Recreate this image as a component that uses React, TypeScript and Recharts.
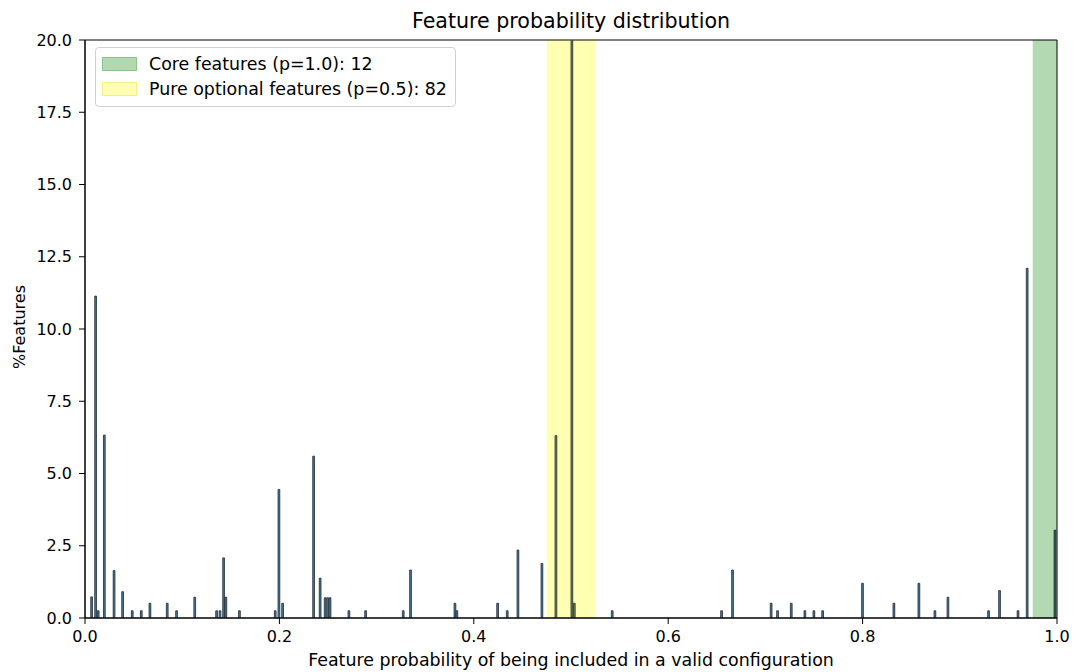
import React from 'react';
import { ComposedChart, Bar, Cell, XAxis, YAxis, ReferenceArea, Label } from 'recharts';

// feature probability (bin position) and share of features in %
const probs = [
  0.0069, 0.011, 0.0137, 0.020, 0.030, 0.0388, 0.0487, 0.058, 0.0669, 0.0847,
  0.0943, 0.113, 0.1355, 0.139, 0.1427, 0.145, 0.159, 0.1958, 0.1996, 0.2034,
  0.2353, 0.242, 0.2472, 0.2497, 0.2522, 0.2716, 0.2888, 0.3275, 0.335, 0.3807,
  0.3827, 0.4246, 0.4345, 0.4455, 0.4702, 0.4846, 0.501, 0.5035, 0.5425, 0.655,
  0.6663, 0.706, 0.7126, 0.7267, 0.7407, 0.75, 0.759, 0.800, 0.8323, 0.858,
  0.8745, 0.8879, 0.9297, 0.941, 0.960, 0.9694, 0.998,
];
const pcts = [
  0.73, 11.14, 0.25, 6.33, 1.64, 0.91, 0.25, 0.25, 0.51, 0.51,
  0.25, 0.72, 0.25, 0.25, 2.08, 0.72, 0.25, 0.25, 4.45, 0.51,
  5.6, 1.38, 0.7, 0.7, 0.7, 0.25, 0.25, 0.25, 1.66, 0.51,
  0.25, 0.51, 0.25, 2.35, 1.89, 6.31, 20.76, 0.51, 0.25, 0.25,
  1.66, 0.51, 0.25, 0.51, 0.25, 0.25, 0.25, 1.2, 0.51, 1.2,
  0.25, 0.72, 0.25, 0.95, 0.25, 12.1, 3.04,
];
const xTicks = [0, 0.2, 0.4, 0.6, 0.8, 1.0];
const yTicks = [0, 2.5, 5, 7.5, 10, 12.5, 15, 17.5, 20];
const legendItems = [
  { label: 'Core features (p=1.0): 12', color: '#b2d8b2', edge: '#8cc48c' },
  { label: 'Pure optional features (p=0.5): 82', color: '#ffffb2', edge: '#f0f08c' },
];

const data = probs.map((p, i) => ({ p, pct: pcts[i] }));

const font = '"DejaVu Sans", sans-serif';
const tickStyle = { fontSize: 16, fill: '#000', fontFamily: font };

// bars sitting under the translucent bands get tinted like in the original
const barColor = (p: number) => {
  if (p >= 0.975) return '#2f6640';
  if (p >= 0.475 && p <= 0.525) return '#7d8a4a';
  return '#4a7aa0';
};

const LegendBox = () => (
  <div
    style={{
      position: 'absolute',
      top: 47,
      left: 95,
      width: 361,
      height: 60,
      border: '1px solid #d0d0d0',
      borderRadius: 4,
      background: 'rgba(255,255,255,0.8)',
      fontFamily: font,
      fontSize: 17.4,
      color: '#000',
      boxSizing: 'border-box',
      paddingTop: 3,
    }}
  >
    {legendItems.map((it) => (
      <div key={it.label} style={{ display: 'flex', alignItems: 'center', height: 25 }}>
        <span
          style={{
            display: 'inline-block',
            width: 35,
            height: 14,
            marginLeft: 6,
            marginRight: 12,
            background: it.color,
            border: `1px solid ${it.edge}`,
            boxSizing: 'border-box',
          }}
        />
        <span style={{ whiteSpace: 'nowrap' }}>{it.label}</span>
      </div>
    ))}
  </div>
);

export default function App() {
  return (
    <div style={{ position: 'absolute', left: 0, top: 0, width: 1078, height: 672, background: '#fff' }}>
      <svg width={1078} height={40} style={{ position: 'absolute', left: 0, top: 0 }}>
        <text x={571} y={28} textAnchor="middle" style={{ fontSize: 20.6, fontFamily: font, fill: '#000' }}>
          Feature probability distribution
        </text>
      </svg>
      <ComposedChart
        width={1078}
        height={672}
        data={data}
        margin={{ top: 40, right: 21, bottom: 0, left: 0 }}
      >
        <XAxis
          dataKey="p"
          type="number"
          domain={[0, 1]}
          ticks={xTicks}
          tickFormatter={(v: number) => v.toFixed(1)}
          tick={tickStyle}
          tickSize={6}
          tickMargin={7}
          height={54}
          stroke="#000"
          allowDataOverflow
        >
          <Label
            content={() => (
              <text x={571} y={666} textAnchor="middle" style={{ fontSize: 17.4, fontFamily: font, fill: '#000' }}>
                Feature probability of being included in a valid configuration
              </text>
            )}
          />
        </XAxis>
        <YAxis
          type="number"
          domain={[0, 20]}
          ticks={yTicks}
          tickFormatter={(v: number) => v.toFixed(1)}
          tick={tickStyle}
          tickSize={6}
          tickMargin={7}
          width={85}
          stroke="#000"
          allowDataOverflow
        >
          <Label
            content={() => (
              <text
                x={25}
                y={327}
                transform="rotate(-90 25 327)"
                textAnchor="middle"
                fill="#000"
                style={{ fontSize: 16, fontFamily: font, fill: '#000' }}
              >
                %Features
              </text>
            )}
          />
        </YAxis>
        <ReferenceArea x1={0.475} x2={0.525} y1={0} y2={20} fill="yellow" fillOpacity={0.3} stroke="none" />
        <ReferenceArea x1={0.975} x2={1} y1={0} y2={20} fill="green" fillOpacity={0.3} stroke="none" />
        <Bar dataKey="pct" barSize={4} stroke="#1c2a36" strokeWidth={0.8} isAnimationActive={false}>
          {data.map((d, i) => (
            <Cell key={`c-${i}`} fill={barColor(d.p)} />
          ))}
        </Bar>
        <ReferenceArea x1={0} x2={1} y1={0} y2={20} fill="none" stroke="#000" strokeWidth={1} />
      </ComposedChart>
      <LegendBox />
    </div>
  );
}
